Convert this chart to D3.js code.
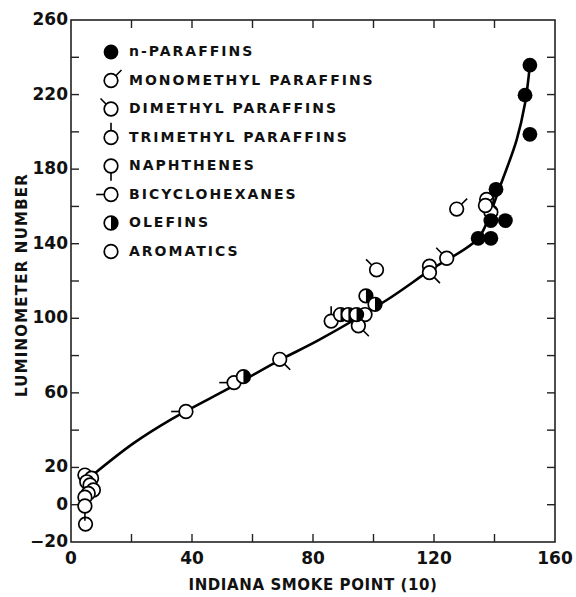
<!DOCTYPE html>
<html>
<head>
<meta charset="utf-8">
<script src="https://cdn.jsdelivr.net/npm/d3@7"></script>
<style>
  body { margin: 0; background: #fff; }
  text { font-family: "DejaVu Sans", sans-serif; fill: #111; }
</style>
</head>
<body>
<div id="chart"></div>
<script>
// data (x = Indiana smoke point, y = luminometer number)
let nParaffins = [[151.7, 235.8], [150.1, 219.7], [151.7, 198.7], [140.5, 169.2],
                  [138.8, 152.4], [143.6, 152.4], [134.6, 142.9], [138.8, 142.9]];
let monomethyl = [[127.5, 158.6], [137.0, 160.5]];
let dimethyl = [[124.2, 132.2], [101.0, 126.0]];
let trimethyl = [[86.0, 98.5]];
let naphthenes = [[4.6, -0.7]];
let bicyclohexanes = [[38.0, 50.0], [53.9, 65.5]];
let olefins = [[57.0, 68.7], [89.1, 102.0], [91.7, 102.0], [94.4, 102.0], [97.5, 112.0], [100.5, 107.5]];
let aromatics = [[4.6, 15.9], [6.8, 14.2], [5.2, 12.3], [6.3, 10.6], [7.4, 7.9], [5.7, 6.1],
                 [4.6, 4.0], [4.8, -10.4], [118.5, 128.0], [97.2, 102.0], [138.8, 157.0]];
// open points drawn with a tick pointing down-right
let otherBranched = [[69.0, 78.0], [95.0, 96.0], [118.5, 124.5], [137.4, 163.8]];
// smooth correlation curve
let curveX = [7.9, 20.6, 32.7, 54, 69, 82, 104.4, 118.7, 134.6, 138.5, 141.8, 147.3, 150.1, 151.7];
let curveY = [16.9, 32.9, 45.4, 64, 77.6, 88.4, 109.8, 125.8, 142.9, 156, 170.6, 195.6, 215.3, 235.9];

let xTicks = d3.range(0, 161, 20);
let yTicks = d3.range(-20, 261, 20);
let xLabels = [0, 40, 80, 120, 160];
let yLabels = [260, 220, 180, 140, 100, 60, 20, 0, -20];

let legendNames = ["n-PARAFFINS", "MONOMETHYL PARAFFINS", "DIMETHYL PARAFFINS", "TRIMETHYL PARAFFINS",
                   "NAPHTHENES", "BICYCLOHEXANES", "OLEFINS", "AROMATICS"];
let legendKinds = ["filled", "mono", "di", "tri", "naph", "bicyc", "olef", "open"];

let width = 576, height = 597;
let mLeft = 71, mRight = 555, mTop = 20, mBottom = 542;

let x = d3.scaleLinear().domain([0, 160]).range([mLeft, mRight]);
let y = d3.scaleLinear().domain([-20, 260]).range([mBottom, mTop]);

let svg = d3.select("#chart").append("svg").attr("width", width).attr("height", height);

// tick angle (degrees, 0 = right, measured clockwise on screen)
let tickAngle = {mono: -45, di: -135, tri: -90, naph: 90, bicyc: 180, dr: 45};
let R = 6.8;

function drawMarker(g, kind) {
    if (kind === "filled") {
        g.append("circle").attr("r", R + 0.6).attr("fill", "#000");
        return;
    }
    if (tickAngle[kind] !== undefined) {
        let a = tickAngle[kind] * Math.PI / 180;
        g.append("line")
            .attr("x1", R * Math.cos(a)).attr("y1", R * Math.sin(a))
            .attr("x2", (R + 8) * Math.cos(a)).attr("y2", (R + 8) * Math.sin(a))
            .attr("stroke", "#000").attr("stroke-width", 1.6);
    }
    g.append("circle").attr("r", R).attr("fill", "#fff").attr("stroke", "#000").attr("stroke-width", 1.7);
    if (kind === "olef") {
        g.append("path").attr("d", `M0,${-R} A${R},${R} 0 0 1 0,${R} Z`).attr("fill", "#000");
    }
}

// frame
svg.append("rect").attr("x", mLeft).attr("y", mTop).attr("width", mRight - mLeft).attr("height", mBottom - mTop)
    .attr("fill", "none").attr("stroke", "#222").attr("stroke-width", 1.6);

// inward ticks on all four sides
let tk = 8;
let axes = svg.append("g").attr("stroke", "#222").attr("stroke-width", 1.4);
xTicks.slice(1, -1).forEach(v => {
    axes.append("line").attr("x1", x(v)).attr("x2", x(v)).attr("y1", mBottom).attr("y2", mBottom - tk);
    axes.append("line").attr("x1", x(v)).attr("x2", x(v)).attr("y1", mTop).attr("y2", mTop + tk);
});
yTicks.slice(1, -1).forEach(v => {
    axes.append("line").attr("y1", y(v)).attr("y2", y(v)).attr("x1", mLeft).attr("x2", mLeft + tk);
    axes.append("line").attr("y1", y(v)).attr("y2", y(v)).attr("x1", mRight).attr("x2", mRight - tk);
});

// tick labels
svg.selectAll(".xl").data(xLabels).enter().append("text")
    .attr("x", d => x(d)).attr("y", mBottom + 17)
    .attr("text-anchor", "middle").attr("dominant-baseline", "middle")
    .attr("style", "font-size:17px;font-weight:bold")
    .text(d => d);
svg.selectAll(".yl").data(yLabels).enter().append("text")
    .attr("x", mLeft - 3).attr("y", d => y(d))
    .attr("text-anchor", "end").attr("dominant-baseline", "middle")
    .attr("style", "font-size:17px;font-weight:bold")
    .text(d => d < 0 ? "\u2212" + Math.abs(d) : d);

// axis titles
svg.append("text").attr("x", (mLeft + mRight) / 2).attr("y", 585)
    .attr("text-anchor", "middle").attr("dominant-baseline", "middle")
    .attr("style", "font-size:15px;font-weight:bold;letter-spacing:0.6px")
    .text("INDIANA SMOKE POINT (10)");
svg.append("text").attr("transform", `translate(22, ${(mTop + mBottom) / 2 + 4}) rotate(-90)`)
    .attr("text-anchor", "middle").attr("dominant-baseline", "middle")
    .attr("style", "font-size:15px;font-weight:bold;letter-spacing:1.2px")
    .text("LUMINOMETER NUMBER");

// curve
let line = d3.line().x(d => x(d[0])).y(d => y(d[1])).curve(d3.curveCatmullRom.alpha(0.5));
svg.append("path").datum(curveX.map((v, i) => [v, curveY[i]]))
    .attr("d", line).attr("fill", "none").attr("stroke", "#000").attr("stroke-width", 2.6);

// points
let series = [
    [aromatics, "open"], [naphthenes, "naph"], [bicyclohexanes, "bicyc"], [otherBranched, "dr"],
    [trimethyl, "tri"], [dimethyl, "di"], [monomethyl, "mono"], [olefins, "olef"], [nParaffins, "filled"]
];
let pts = svg.append("g");
series.forEach(([data, kind]) => {
    data.forEach(d => {
        let g = pts.append("g").attr("transform", `translate(${x(d[0])}, ${y(d[1])})`);
        drawMarker(g, kind);
    });
});

// legend
let legend = svg.append("g");
legendNames.forEach((name, i) => {
    let ly = 52 + i * 28.5;
    let g = legend.append("g").attr("transform", `translate(111, ${ly})`);
    drawMarker(g, legendKinds[i]);
    legend.append("text").attr("x", 129).attr("y", ly)
        .attr("dominant-baseline", "middle")
        .attr("style", "font-size:14px;font-weight:bold;letter-spacing:2px")
        .text(name);
});
</script>
</body>
</html>
